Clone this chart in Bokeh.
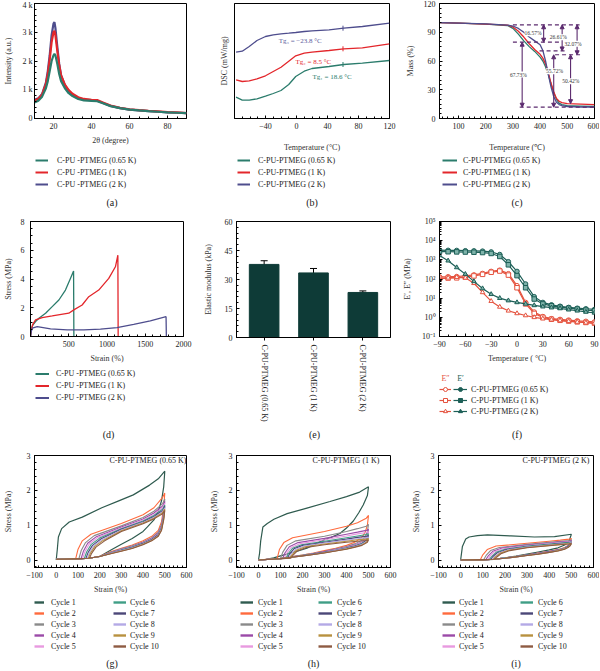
from bokeh.plotting import figure
from bokeh.layouts import row, column
from bokeh.models import (Range1d, Label, LabelSet, Legend, LegendItem, Arrow, NormalHead,
                          TeeHead, Whisker, ColumnDataSource, FixedTicker,
                          SingleIntervalTicker, CustomJSTickFormatter)
from bokeh.core.properties import value
from bokeh.embed import file_html
from bokeh.resources import INLINE

FONT = "Liberation Serif"
TEAL = "#2b7c6c"
RED = "#e3262b"
PURP = "#4e4d8d"
INK = "#1a1a1a"

# ---------------- data ----------------
SERIES = ["C-PU-PTMEG (0.65 K)", "C-PU-PTMEG (1 K)", "C-PU-PTMEG (2 K)"]
SERIES_SP = ["C-PU -PTMEG (0.65 K)", "C-PU -PTMEG (1 K)", "C-PU -PTMEG (2 K)"]

# (a) XRD
XRD_2THETA = [10, 12, 14, 16, 17, 18, 19, 20, 20.5, 21, 22, 23, 24, 26, 28, 30, 33, 36, 40, 43, 46, 50, 55, 60, 65, 70, 75, 80, 85, 90]
XRD_065 = [560, 620, 760, 1050, 1300, 1650, 2000, 2200, 2250, 2200, 1900, 1550, 1300, 1050, 880, 780, 680, 630, 610, 600, 530, 430, 360, 310, 280, 255, 235, 215, 200, 185]
XRD_1K = [620, 690, 830, 1200, 1550, 2050, 2650, 3000, 3050, 2900, 2350, 1850, 1500, 1180, 990, 860, 740, 680, 650, 640, 560, 450, 370, 320, 290, 265, 245, 225, 210, 190]
XRD_2K = [650, 700, 850, 1250, 1650, 2200, 2900, 3300, 3350, 3150, 2500, 1900, 1500, 1150, 950, 830, 720, 660, 640, 620, 540, 440, 360, 310, 280, 255, 235, 215, 200, 185]

# (b) DSC
DSC_T = [-78, -70, -61, -51, -40, -30, -20, -10, -1, 10, 20, 42, 61, 85, 120]
DSC_065 = [21.3, 18.3, 18.3, 19.7, 22.3, 25, 28, 34, 42, 47.3, 50, 52, 54, 55.3, 58]
DSC_1K = [38.7, 37, 37.7, 39.7, 42.7, 47, 51.3, 57.3, 62.7, 65.3, 66.3, 68, 69.7, 70.7, 74.7]
DSC_2K = [66.3, 67.3, 72, 78, 82, 83.7, 84.7, 85.3, 86, 87, 87.7, 88.7, 90.3, 92, 95.3]
DSC_MARK_T = [60, 60, 60]
DSC_MARK_Y = [54.0, 69.7, 90.3]
TG_TEXT = ["Tg\u2081 = 18.6 \u00b0C", "Tg\u2082 = 8.5 \u00b0C", "Tg\u2083 = \u221223.8 \u00b0C"]
TG_X = [20.6, -1.3, -23]
TG_Y = [41.3, 57, 78]

# (c) TGA
TGA_T = [30, 100, 200, 280, 300, 320, 340, 360, 380, 400, 410, 420, 430, 440, 450, 460, 470, 480, 500, 550, 600]
TGA_065 = [100, 99.5, 98.5, 97, 94, 88, 81, 75, 70, 64, 60, 54, 46, 36, 27, 20, 16, 14.5, 13.5, 13, 12.5]
TGA_1K = [100, 99.5, 98.5, 97.5, 95.5, 91, 85, 78, 72, 67, 63, 57, 48, 37, 28, 21, 18, 16.5, 15.5, 15, 14.5]
TGA_2K = [100, 99.5, 98.7, 97.5, 96.5, 94, 90, 85, 81, 77, 71, 60, 46, 33, 23, 17, 14.5, 13.5, 12.5, 12, 12]
C_DASH_X0 = [300, 300, 398, 455, 325]
C_DASH_X1 = [545, 478, 490, 552, 600]
C_DASH_Y = [97.8, 79.6, 70.5, 66.5, 11.8]
C_ARR_X = [334, 413, 481, 536, 450, 512]
C_ARR_Y0 = [79.6, 97.8, 97.8, 97.8, 66.5, 66.5]
C_ARR_Y1 = [11.8, 79.6, 70.5, 66.5, 11.8, 15.5]
C_PCT = ["67.73%", "16.57%", "26.61%", "32.07%", "55.72%", "50.42%"]
C_PCT_X = [320, 374, 467, 521, 453, 513]
C_PCT_Y = [45.9, 89, 84.8, 78, 49.4, 39]

# (d) tensile
D_X_065 = [0, 10, 30, 66, 110, 197, 284, 371, 457, 522, 563, 567]
D_Y_065 = [0, 0.5, 0.8, 1.04, 1.27, 1.62, 2.08, 2.54, 3.23, 4.04, 4.55, 0]
D_X_1K = [0, 10, 30, 66, 153, 284, 501, 566, 675, 762, 892, 1023, 1110, 1142, 1146]
D_Y_1K = [0, 0.45, 0.85, 1.15, 1.32, 1.43, 1.62, 1.85, 2.19, 2.77, 3.23, 4.04, 4.85, 5.66, 0]
D_X_2K = [0, 10, 23, 88, 262, 480, 697, 914, 1131, 1349, 1566, 1772, 1776]
D_Y_2K = [0, 0.35, 0.58, 0.69, 0.53, 0.46, 0.46, 0.51, 0.62, 0.85, 1.09, 1.38, 0]

# (e) elastic modulus
E_X = [1, 2, 3]
E_MOD = [37.8, 33.4, 23.3]
E_ERR = [1.9, 2.3, 0.8]

# (f) DMA
F_T = [-90, -80, -70, -60, -50, -40, -30, -20, -10, 0, 10, 20, 30, 40, 50, 60, 70, 80, 90]
F_E1_065 = [3200, 3150, 3100, 3000, 2950, 2850, 2600, 1900, 800, 250, 55, 12, 6, 4.5, 3.8, 3.3, 3.0, 2.8, 2.6]
F_E1_1K = [2700, 2650, 2600, 2550, 2500, 2400, 2150, 1500, 550, 150, 35, 9, 5, 4, 3.4, 3.0, 2.7, 2.4, 2.2]
F_E1_2K = [1700, 900, 400, 180, 75, 32, 16, 10, 7.5, 6, 5, 4.2, 3.6, 3.2, 2.9, 2.5, 2.2, 1.9, 1.7]
F_E2_065 = [130, 132, 135, 145, 165, 195, 250, 290, 190, 45, 6, 1.9, 1.1, 0.85, 0.78, 0.72, 0.66, 0.62, 0.58]
F_E2_1K = [110, 112, 115, 125, 145, 175, 225, 260, 160, 35, 5, 1.6, 1.0, 0.8, 0.7, 0.64, 0.58, 0.54, 0.5]
F_E2_2K = [100, 115, 125, 115, 60, 20, 7, 3.5, 2.2, 1.6, 1.25, 1.0, 0.85, 0.75, 0.68, 0.62, 0.57, 0.52, 0.48]

# (g)-(i) cyclic loading
CYCLES = ["Cycle %d" % k for k in range(1, 11)]
CYC_COLORS = ["#2f5b4f", "#ff6a3d", "#8a8a8a", "#9b4aa8", "#e89ae0",
              "#3f9e86", "#4b4778", "#b4a9e6", "#b8913f", "#8e5b42"]
UNLOAD_X = [495, 485, 470, 440, 400, 350, 300, 250, 200, 150, 100, 0]

G_C1_X = [0, 5, 10, 25, 60, 120, 210, 285, 355, 430, 470, 500, 495, 485, 470, 450, 420, 400, 350, 300, 250, 200, 150, 100, 0]
G_C1_Y = [0, 0.3, 0.66, 0.9, 1.09, 1.23, 1.5, 1.69, 1.87, 2.15, 2.33, 2.55, 2.1, 1.7, 1.4, 1.15, 0.95, 0.82, 0.62, 0.45, 0.28, 0.1, 0.05, 0.03, 0.02]
G_LOAD_X = [[0, 90, 100, 120, 160, 300, 400, 450, 490, 500],
            [0, 105, 115, 135, 175, 300, 400, 450, 490, 500],
            [0, 115, 125, 145, 185, 300, 400, 450, 490, 500],
            [0, 122, 132, 152, 192, 300, 400, 450, 490, 500],
            [0, 130, 140, 160, 200, 300, 400, 450, 490, 500],
            [0, 137, 147, 167, 207, 300, 400, 450, 490, 500],
            [0, 143, 153, 173, 213, 300, 400, 450, 490, 500],
            [0, 148, 158, 178, 218, 300, 400, 450, 490, 500],
            [0, 153, 163, 183, 223, 300, 400, 450, 490, 500]]
G_LOAD_Y = [[0.02, 0.05, 0.3, 0.55, 0.74, 1.05, 1.3, 1.5, 1.8, 1.92],
            [0.02, 0.05, 0.27, 0.5, 0.7, 0.98, 1.22, 1.4, 1.62, 1.75],
            [0.02, 0.05, 0.25, 0.48, 0.67, 0.95, 1.18, 1.35, 1.55, 1.68],
            [0.02, 0.05, 0.24, 0.46, 0.65, 0.92, 1.15, 1.31, 1.5, 1.63],
            [0.02, 0.05, 0.23, 0.44, 0.63, 0.9, 1.12, 1.28, 1.46, 1.58],
            [0.02, 0.05, 0.22, 0.42, 0.61, 0.88, 1.1, 1.25, 1.42, 1.54],
            [0.02, 0.05, 0.21, 0.41, 0.59, 0.86, 1.08, 1.22, 1.39, 1.5],
            [0.02, 0.05, 0.2, 0.39, 0.57, 0.84, 1.06, 1.2, 1.36, 1.46],
            [0.02, 0.05, 0.19, 0.37, 0.55, 0.82, 1.04, 1.18, 1.33, 1.42]]
G_UNLOAD_Y = [[1.5, 1.1, 0.85, 0.68, 0.55, 0.43, 0.34, 0.24, 0.11, 0.05, 0.03, 0.02],
              [1.4, 1.02, 0.8, 0.64, 0.52, 0.41, 0.32, 0.22, 0.1, 0.05, 0.03, 0.02],
              [1.35, 0.98, 0.77, 0.62, 0.5, 0.39, 0.31, 0.21, 0.1, 0.05, 0.03, 0.02],
              [1.3, 0.95, 0.75, 0.6, 0.49, 0.38, 0.3, 0.2, 0.1, 0.05, 0.03, 0.02],
              [1.27, 0.93, 0.73, 0.59, 0.48, 0.37, 0.29, 0.2, 0.1, 0.05, 0.03, 0.02],
              [1.24, 0.91, 0.72, 0.58, 0.47, 0.36, 0.28, 0.19, 0.1, 0.05, 0.03, 0.02],
              [1.21, 0.89, 0.7, 0.57, 0.46, 0.35, 0.27, 0.19, 0.1, 0.05, 0.03, 0.02],
              [1.18, 0.87, 0.69, 0.56, 0.45, 0.34, 0.26, 0.18, 0.1, 0.05, 0.03, 0.02],
              [1.15, 0.85, 0.68, 0.55, 0.44, 0.33, 0.25, 0.18, 0.1, 0.05, 0.03, 0.02]]

H_C1_X = [0, 5, 10, 20, 40, 70, 130, 220, 325, 400, 460, 500, 495, 476, 455, 431, 400, 370, 330, 295, 260, 220, 180, 145, 100, 69, 30, 0]
H_C1_Y = [0, 0.2, 0.55, 0.95, 1.05, 1.17, 1.33, 1.49, 1.68, 1.82, 1.95, 2.1, 1.85, 1.58, 1.35, 1.12, 0.92, 0.76, 0.65, 0.57, 0.46, 0.34, 0.26, 0.2, 0.12, 0.06, 0.01, 0]
H_LOAD_X = [[0, 85, 95, 115, 155, 300, 400, 450, 490, 500],
            [0, 100, 110, 130, 170, 300, 400, 450, 490, 500],
            [0, 110, 120, 140, 180, 300, 400, 450, 490, 500],
            [0, 118, 128, 148, 188, 300, 400, 450, 490, 500],
            [0, 125, 135, 155, 195, 300, 400, 450, 490, 500],
            [0, 131, 141, 161, 201, 300, 400, 450, 490, 500],
            [0, 137, 147, 167, 207, 300, 400, 450, 490, 500],
            [0, 142, 152, 172, 212, 300, 400, 450, 490, 500],
            [0, 147, 157, 177, 217, 300, 400, 450, 490, 500]]
H_LOAD_Y = [[0, 0.05, 0.3, 0.5, 0.64, 0.82, 0.97, 1.07, 1.2, 1.28],
            [0, 0.05, 0.22, 0.42, 0.55, 0.68, 0.82, 0.9, 0.97, 1.02],
            [0, 0.05, 0.2, 0.38, 0.5, 0.62, 0.74, 0.8, 0.85, 0.88],
            [0, 0.05, 0.19, 0.36, 0.47, 0.58, 0.69, 0.75, 0.79, 0.82],
            [0, 0.05, 0.18, 0.34, 0.44, 0.54, 0.64, 0.69, 0.73, 0.75],
            [0, 0.05, 0.17, 0.32, 0.42, 0.51, 0.6, 0.65, 0.68, 0.7],
            [0, 0.05, 0.16, 0.3, 0.4, 0.49, 0.57, 0.61, 0.64, 0.66],
            [0, 0.05, 0.15, 0.28, 0.38, 0.46, 0.54, 0.58, 0.6, 0.62],
            [0, 0.05, 0.14, 0.26, 0.36, 0.44, 0.51, 0.54, 0.56, 0.58]]
H_UNLOAD_Y = [[1.0, 0.8, 0.65, 0.52, 0.42, 0.34, 0.27, 0.2, 0.14, 0.09, 0.04, 0],
              [0.82, 0.68, 0.57, 0.47, 0.39, 0.32, 0.25, 0.19, 0.14, 0.09, 0.04, 0],
              [0.72, 0.61, 0.52, 0.44, 0.37, 0.3, 0.24, 0.18, 0.13, 0.09, 0.04, 0],
              [0.68, 0.58, 0.5, 0.42, 0.36, 0.29, 0.23, 0.18, 0.13, 0.08, 0.04, 0],
              [0.63, 0.55, 0.48, 0.41, 0.35, 0.28, 0.22, 0.17, 0.13, 0.08, 0.04, 0],
              [0.6, 0.53, 0.46, 0.4, 0.34, 0.27, 0.22, 0.17, 0.12, 0.08, 0.04, 0],
              [0.57, 0.51, 0.45, 0.39, 0.33, 0.27, 0.21, 0.16, 0.12, 0.08, 0.04, 0],
              [0.54, 0.49, 0.43, 0.38, 0.32, 0.26, 0.21, 0.16, 0.12, 0.08, 0.04, 0],
              [0.51, 0.47, 0.42, 0.37, 0.31, 0.26, 0.2, 0.16, 0.12, 0.08, 0.04, 0]]

I_C1_X = [0, 8, 23, 38, 76, 121, 227, 333, 424, 500, 490, 470, 440, 400, 350, 300, 250, 200, 150, 100, 0]
I_C1_Y = [0, 0.39, 0.6, 0.66, 0.7, 0.72, 0.69, 0.66, 0.67, 0.74, 0.55, 0.43, 0.35, 0.29, 0.23, 0.17, 0.11, 0.06, 0.02, 0, 0]
I_LOAD_X = [[0, 90, 100, 120, 160, 300, 400, 450, 490, 500],
            [0, 105, 115, 135, 175, 300, 400, 450, 490, 500],
            [0, 115, 125, 145, 185, 300, 400, 450, 490, 500],
            [0, 123, 133, 153, 193, 300, 400, 450, 490, 500],
            [0, 130, 140, 160, 200, 300, 400, 450, 490, 500],
            [0, 136, 146, 166, 206, 300, 400, 450, 490, 500],
            [0, 142, 152, 172, 212, 300, 400, 450, 490, 500],
            [0, 147, 157, 177, 217, 300, 400, 450, 490, 500],
            [0, 152, 162, 182, 222, 300, 400, 450, 490, 500]]
I_LOAD_Y = [[0, 0.02, 0.15, 0.3, 0.4, 0.48, 0.54, 0.57, 0.6, 0.62],
            [0, 0.02, 0.13, 0.27, 0.36, 0.45, 0.51, 0.54, 0.56, 0.58],
            [0, 0.02, 0.12, 0.25, 0.34, 0.43, 0.49, 0.52, 0.54, 0.56],
            [0, 0.02, 0.11, 0.24, 0.33, 0.41, 0.47, 0.5, 0.52, 0.54],
            [0, 0.02, 0.1, 0.22, 0.31, 0.4, 0.46, 0.49, 0.51, 0.52],
            [0, 0.02, 0.1, 0.21, 0.3, 0.38, 0.44, 0.47, 0.49, 0.51],
            [0, 0.02, 0.09, 0.2, 0.29, 0.37, 0.43, 0.46, 0.48, 0.5],
            [0, 0.02, 0.09, 0.19, 0.28, 0.36, 0.42, 0.45, 0.47, 0.48],
            [0, 0.02, 0.08, 0.18, 0.27, 0.35, 0.41, 0.44, 0.46, 0.47]]
I_UNLOAD_Y = [[0.5, 0.42, 0.36, 0.3, 0.25, 0.2, 0.15, 0.1, 0.06, 0.02, 0, 0],
              [0.48, 0.41, 0.35, 0.29, 0.24, 0.19, 0.15, 0.1, 0.06, 0.02, 0, 0],
              [0.47, 0.4, 0.34, 0.29, 0.24, 0.19, 0.14, 0.1, 0.06, 0.02, 0, 0],
              [0.46, 0.39, 0.34, 0.28, 0.23, 0.18, 0.14, 0.1, 0.06, 0.02, 0, 0],
              [0.45, 0.39, 0.33, 0.28, 0.23, 0.18, 0.14, 0.1, 0.06, 0.02, 0, 0],
              [0.44, 0.38, 0.33, 0.28, 0.23, 0.18, 0.14, 0.09, 0.05, 0.02, 0, 0],
              [0.43, 0.37, 0.32, 0.27, 0.22, 0.18, 0.13, 0.09, 0.05, 0.02, 0, 0],
              [0.42, 0.37, 0.32, 0.27, 0.22, 0.17, 0.13, 0.09, 0.05, 0.02, 0, 0],
              [0.41, 0.36, 0.31, 0.26, 0.22, 0.17, 0.13, 0.09, 0.05, 0.02, 0, 0]]


# ---------------- helpers ----------------
def make_panel(w, h, bl, br, bt, bb, xr, yr, xlabel, ylabel, y_type="linear"):
    p = figure(width=w, height=h, x_range=Range1d(*xr), y_range=Range1d(*yr),
               y_axis_type=y_type, output_backend="svg", toolbar_location=None,
               min_border_left=bl, min_border_right=br, min_border_top=bt,
               min_border_bottom=bb)
    p.xgrid.visible = False
    p.ygrid.visible = False
    p.outline_line_color = "black"
    p.outline_line_alpha = 1
    p.outline_line_width = 1
    for ax in p.axis:
        ax.major_tick_in = 3
        ax.major_tick_out = 0
        ax.minor_tick_in = 2
        ax.minor_tick_out = 0
        ax.major_label_text_font = FONT
        ax.major_label_text_font_size = "8px"
        ax.major_label_text_color = INK
        ax.axis_label_text_font = FONT
        ax.axis_label_text_font_size = "8px"
        ax.axis_label_text_font_style = "normal"
        ax.axis_label_text_color = "#333333"
        ax.major_label_standoff = 4
        ax.axis_label_standoff = 4
        ax.axis_line_color = "black"
        ax.major_tick_line_color = "black"
        ax.minor_tick_line_color = "black"
    p.xaxis.axis_label = xlabel
    p.yaxis.axis_label = ylabel
    return p


def leg_fig(w, h, bl, br):
    # same side borders as the panel above it, so that the two frames line up
    p = figure(width=w, height=h, x_range=Range1d(0, 1), y_range=Range1d(0, 1),
               output_backend="svg", toolbar_location=None,
               min_border_left=bl, min_border_right=br, min_border_top=0, min_border_bottom=0,
               x_axis_location=None, y_axis_location=None)
    p.xgrid.visible = False
    p.ygrid.visible = False
    p.outline_line_color = None
    return p


def add_legend(lp, lh, entries, x, d_top, gw, standoff, gh=11, spacing=1, font="8px"):
    """x: offset from the frame's left edge; d_top: strip top to first row centre."""
    n = len(entries)
    height = n * gh + (n - 1) * spacing
    top = lh - (d_top - gh / 2.0)
    items = [LegendItem(label=lab, renderers=rs) for lab, rs in entries]
    leg = Legend(items=items, location=(x, top - height), orientation="vertical",
                 glyph_width=gw, glyph_height=gh, label_height=gh, label_width=5,
                 label_standoff=standoff, spacing=spacing, padding=0, margin=0,
                 border_line_alpha=0, background_fill_alpha=0,
                 inactive_fill_alpha=0,
                 label_text_font=FONT, label_text_font_size=font,
                 label_text_color=INK)
    lp.add_layout(leg)


def tag(lp, lh, fw, d_top, text):
    lp.add_layout(Label(x=fw / 2.0, y=lh - d_top, x_units="screen", y_units="screen", text=text,
                        text_align="center", text_baseline="middle", text_color=INK,
                        text_font=FONT, text_font_size="10px"))


def ghost_line(p, xs, ys, color, width=2.0):
    # legend-only copy of a series (hidden; the legend still draws its swatch)
    return p.line(x=xs, y=ys, line_color=color, line_width=width, visible=False)


COLORS3 = [TEAL, RED, PURP]

# ---------------- row 1 (height 215) ----------------
R1_H, R1_BT, R1_FH, R1_BB = 215, 3, 115, 36
R1_MH = R1_BT + R1_FH + R1_BB
R1_LH = R1_H - R1_MH

# (a)
A_BL, A_BR, A_W = 31, 14, 200
pa = make_panel(A_W, R1_MH, A_BL, A_BR, R1_BT, R1_BB, (10, 90), (0, 4000), "2\u03b8 (degree)", "Intensity (a.u.)")
pa.xaxis.ticker = SingleIntervalTicker(interval=20, num_minor_ticks=4)
pa.yaxis.ticker = SingleIntervalTicker(interval=1000, num_minor_ticks=5)
pa.yaxis.major_label_overrides = {0: "0", 1000: "1 k", 2000: "2 k", 3000: "3 k", 4000: "4 k"}
pa.yaxis.major_label_standoff = 2
pa.yaxis.axis_label_standoff = 7
for ys, c in zip([XRD_2K, XRD_1K, XRD_065], [PURP, RED, TEAL]):
    pa.line(XRD_2THETA, ys, line_color=c, line_width=2.2)
la = leg_fig(A_W, R1_LH, A_BL, A_BR)
add_legend(la, R1_LH, [(SERIES_SP[i], [ghost_line(la, XRD_2THETA, ys, COLORS3[i])])
                       for i, ys in enumerate([XRD_065, XRD_1K, XRD_2K])], 1, 6, 13, 9, gh=10, spacing=2)
tag(la, R1_LH, A_W - A_BL - A_BR, 48, "(a)")

# (b)
B_BL, B_BR, B_W = 34, 11, 200
pb = make_panel(B_W, R1_MH, B_BL, B_BR, R1_BT, R1_BB, (-80, 120), (0, 115), "Temperature (\u00b0C)", "DSC (mW/mg)")
pb.xaxis.ticker = FixedTicker(ticks=[-40, 0, 40, 80, 120],
                              minor_ticks=[-70, -60, -50, -30, -20, -10, 10, 20, 30, 50, 60, 70, 90, 100, 110])
pb.yaxis.ticker = FixedTicker(ticks=[])
pb.yaxis.axis_label_standoff = 6
pb.xaxis.axis_label_standoff = 11
for ys, c in zip([DSC_065, DSC_1K, DSC_2K], COLORS3):
    pb.line(DSC_T, ys, line_color=c, line_width=1.3)
pb.scatter(DSC_MARK_T, DSC_MARK_Y, marker="dash", angle=1.5708, size=5,
           line_color=COLORS3, line_width=1)
pb.text(x=TG_X, y=TG_Y, text=TG_TEXT, text_color=[TEAL, RED, "#5a5a9a"],
        text_font=value(FONT), text_font_size=value("7px"),
        text_align="left", text_baseline="middle")
lb = leg_fig(B_W, R1_LH, B_BL, B_BR)
add_legend(lb, R1_LH, [(SERIES[i], [ghost_line(lb, DSC_T, ys, COLORS3[i])])
                       for i, ys in enumerate([DSC_065, DSC_1K, DSC_2K])], 3, 6, 13, 8, gh=10, spacing=2)
tag(lb, R1_LH, B_W - B_BL - B_BR, 48, "(b)")

# (c)
PD = "#5b2a6e"
C_BL, C_BR, C_W = 39, 5, 199
pc = make_panel(C_W, R1_MH, C_BL, C_BR, R1_BT, R1_BB, (30, 600), (0, 120), "Temperature (\u2103)", "Mass (%)")
pc.xaxis.ticker = SingleIntervalTicker(interval=100, num_minor_ticks=5)
pc.yaxis.ticker = SingleIntervalTicker(interval=30, num_minor_ticks=6)
pc.yaxis.axis_label_standoff = 6
pc.xaxis.axis_label_standoff = 11
for ys, c in zip([TGA_065, TGA_1K, TGA_2K], COLORS3):
    pc.line(TGA_T, ys, line_color=c, line_width=1.3)
pc.segment(x0=C_DASH_X0, y0=C_DASH_Y, x1=C_DASH_X1, y1=C_DASH_Y,
           line_color=PD, line_width=1.2, line_dash="4 3")
for xa, y0, y1 in zip(C_ARR_X, C_ARR_Y0, C_ARR_Y1):
    pc.add_layout(Arrow(x_start=xa, y_start=y0, x_end=xa, y_end=y1,
                        line_color=PD, line_width=1.1,
                        start=NormalHead(size=4, fill_color=PD, line_color=PD),
                        end=NormalHead(size=4, fill_color=PD, line_color=PD)))
pc.add_layout(LabelSet(x="x", y="y", text="t",
                       source=ColumnDataSource(dict(x=C_PCT_X, y=C_PCT_Y, t=C_PCT)),
                       text_font=value(FONT), text_font_size=value("5.5px"), text_color="#333333",
                       text_align="center", text_baseline="middle",
                       background_fill_color="white", background_fill_alpha=1.0))
lc = leg_fig(C_W, R1_LH, C_BL, C_BR)
add_legend(lc, R1_LH, [(SERIES[i], [ghost_line(lc, TGA_T, ys, COLORS3[i])])
                       for i, ys in enumerate([TGA_065, TGA_1K, TGA_2K])], 3, 6, 15, 6, gh=10, spacing=2)
tag(lc, R1_LH, C_W - C_BL - C_BR, 48, "(c)")

# ---------------- row 2 (height 232) ----------------
R2_H, R2_BT, R2_FH, R2_BB = 232, 6, 116, 28
R2_MH = R2_BT + R2_FH + R2_BB
R2_LH = R2_H - R2_MH

# (d)
D_BL, D_BR, D_W = 27, 17, 200
pd_ = make_panel(D_W, R2_MH, D_BL, D_BR, R2_BT, R2_BB, (0, 2000), (0, 8), "Strain (%)", "Stress (MPa)")
pd_.xaxis.ticker = FixedTicker(ticks=[500, 1000, 1500, 2000],
                               minor_ticks=[100, 200, 300, 400, 600, 700, 800, 900, 1100, 1200, 1300, 1400,
                                            1600, 1700, 1800, 1900])
pd_.yaxis.ticker = SingleIntervalTicker(interval=2, num_minor_ticks=4)
pd_.yaxis.major_label_standoff = 6
pd_.yaxis.axis_label_standoff = 5
for xs, ys, c in zip([D_X_065, D_X_1K, D_X_2K], [D_Y_065, D_Y_1K, D_Y_2K], COLORS3):
    pd_.line(xs, ys, line_color=c, line_width=1.3)
ld = leg_fig(D_W, R2_LH, D_BL, D_BR)
add_legend(ld, R2_LH, [(SERIES_SP[i], [ghost_line(ld, xs, ys, COLORS3[i])])
                       for i, (xs, ys) in enumerate([(D_X_065, D_Y_065), (D_X_1K, D_Y_1K), (D_X_2K, D_Y_2K)])],
           5, 8, 14, 7, gh=11, spacing=1)
tag(ld, R2_LH, D_W - D_BL - D_BR, 69, "(d)")

# (e)
E_BL, E_BR, E_W, E_BB = 34, 10, 200, 90
E_MH = R2_BT + R2_FH + E_BB
E_LH = R2_H - E_MH
pe = make_panel(E_W, E_MH, E_BL, E_BR, R2_BT, E_BB, (0.44, 3.56), (0, 60), None, "Elastic modulus (kPa)")
pe.xaxis.ticker = FixedTicker(ticks=E_X)
pe.xaxis.major_label_overrides = {1: SERIES[0], 2: SERIES[1], 3: SERIES[2]}
pe.xaxis.major_label_orientation = "vertical"
pe.xaxis.major_tick_out = 3
pe.xaxis.major_tick_in = 0
pe.xaxis.major_label_standoff = 4
pe.yaxis.ticker = SingleIntervalTicker(interval=15, num_minor_ticks=5)
pe.yaxis.axis_label_standoff = 9
pe.vbar(x=E_X, top=E_MOD, width=0.6, fill_color="#0e3b37", line_color="#0e3b37")
err_src = ColumnDataSource(dict(x=E_X, up=[m + e for m, e in zip(E_MOD, E_ERR)],
                                lo=[m - e for m, e in zip(E_MOD, E_ERR)]))
pe.add_layout(Whisker(source=err_src, base="x", upper="up", lower="lo", line_color="black",
                      line_width=1, upper_head=TeeHead(size=7, line_color="black"),
                      lower_head=TeeHead(size=7, line_color="black")))
le = leg_fig(E_W, E_LH, E_BL, E_BR)
tag(le, E_LH, E_W - E_BL - E_BR, 7, "(e)")

# (f)
FT = "#1d5f57"
FR = "#e5533f"
F_BL, F_BR, F_W = 39, 5, 199
pf = make_panel(F_W, R2_MH, F_BL, F_BR, R2_BT, R2_BB, (-90, 90), (0.1, 1e5), "Temperature ( \u00b0C)",
                "E\u2032, E\u2033 (MPa)", y_type="log")
pf.xaxis.ticker = SingleIntervalTicker(interval=30, num_minor_ticks=3)
pf.yaxis.formatter = CustomJSTickFormatter(code="""
const e = Math.round(Math.log10(tick));
const sup = {"-": "\u207b", "0": "\u2070", "1": "\u00b9", "2": "\u00b2", "3": "\u00b3",
             "4": "\u2074", "5": "\u2075", "6": "\u2076", "7": "\u2077", "8": "\u2078", "9": "\u2079"};
return "10" + String(e).split("").map(c => sup[c]).join("");
""")
pf.yaxis.axis_label_standoff = 7
MARKS = ["circle", "square", "triangle"]
for ys, m in zip([F_E2_065, F_E2_1K, F_E2_2K], MARKS):
    pf.line(F_T, ys, line_color=FR, line_width=1.2)
    pf.scatter(F_T, ys, marker=m, size=4.5, line_color=FR, fill_color="white", line_width=1)
for ys, m in zip([F_E1_065, F_E1_1K, F_E1_2K], MARKS):
    pf.line(F_T, ys, line_color=FT, line_width=1.2)
    pf.scatter(F_T, ys, marker=m, size=4.5, line_color=FT, fill_color="#7fb3aa", line_width=1)
lf = leg_fig(F_W, R2_LH, F_BL, F_BR)
red_entries = []
teal_entries = []
for i, (m, e2, e1) in enumerate(zip(MARKS, [F_E2_065, F_E2_1K, F_E2_2K], [F_E1_065, F_E1_1K, F_E1_2K])):
    rl = lf.line(x=F_T, y=e2, line_color=FR, line_width=1.2, visible=False)
    rs = lf.scatter(x=F_T, y=e2, marker=m, size=4.5, line_color=FR, fill_color="white", visible=False)
    tl = lf.line(x=F_T, y=e1, line_color=FT, line_width=1.2, visible=False)
    ts = lf.scatter(x=F_T, y=e1, marker=m, size=4.5, line_color=FT, fill_color=FT, visible=False)
    red_entries.append((" ", [rl, rs]))
    teal_entries.append((SERIES[i], [tl, ts]))
add_legend(lf, R2_LH, red_entries, 0, 24, 12, 0, gh=10, spacing=1)
add_legend(lf, R2_LH, teal_entries, 14, 24, 14, 4, gh=10, spacing=1)
lf.add_layout(Label(x=6, y=R2_LH - 13, x_units="screen", y_units="screen", text="E\u2033",
                    text_align="center", text_baseline="middle", text_color=FR,
                    text_font=FONT, text_font_size="8px"))
lf.add_layout(Label(x=21, y=R2_LH - 13, x_units="screen", y_units="screen", text="E\u2032",
                    text_align="center", text_baseline="middle", text_color=FT,
                    text_font=FONT, text_font_size="8px"))
tag(lf, R2_LH, F_W - F_BL - F_BR, 69, "(f)")

# ---------------- row 3 (height 223) ----------------
R3_H, R3_BT, R3_FH, R3_BB = 223, 8, 115, 26
R3_MH = R3_BT + R3_FH + R3_BB
R3_LH = R3_H - R3_MH


def cyc_panel(bl, br, w, c1x, c1y, lx, ly, uy, name, name_dx, tagtext, ystd, leg1, leg2):
    fw = w - bl - br
    p = make_panel(w, R3_MH, bl, br, R3_BT, R3_BB, (-100, 600), (-0.215, 3), "Strain (%)", "Stress (MPa)")
    p.xaxis.ticker = SingleIntervalTicker(interval=100, num_minor_ticks=5)
    p.yaxis.ticker = SingleIntervalTicker(interval=1, num_minor_ticks=5)
    p.yaxis.axis_label_standoff = ystd
    p.line(c1x, c1y, line_color=CYC_COLORS[0], line_width=1.2)
    for k in range(9):
        p.line(lx[k] + UNLOAD_X, ly[k] + uy[k], line_color=CYC_COLORS[k + 1], line_width=1.1)
    p.add_layout(Label(x=fw - name_dx, y=R3_FH - 8, x_units="screen", y_units="screen", text=name,
                       text_align="right", text_baseline="middle", text_font=FONT,
                       text_font_size="8px", text_color=INK))
    lp = leg_fig(w, R3_LH, bl, br)
    dl = [ghost_line(lp, c1x, c1y, CYC_COLORS[0], 2.4)]
    for k in range(9):
        dl.append(ghost_line(lp, lx[k] + UNLOAD_X, ly[k] + uy[k], CYC_COLORS[k + 1], 2.4))
    add_legend(lp, R3_LH, [(CYCLES[k], [dl[k]]) for k in range(5)], leg1[0], 6, leg1[1], leg1[2], gh=10, spacing=1)
    add_legend(lp, R3_LH, [(CYCLES[k], [dl[k]]) for k in range(5, 10)], leg2[0], 6, leg2[1], leg2[2], gh=10, spacing=1)
    tag(lp, R3_LH, fw, 67, tagtext)
    return column(p, lp, spacing=0)


cg = cyc_panel(31, 14, 200, G_C1_X, G_C1_Y, G_LOAD_X, G_LOAD_Y, G_UNLOAD_Y, SERIES[0], 3, "(g)", 11,
               (0, 10, 7), (79, 13, 4))
ch = cyc_panel(36, 10, 200, H_C1_X, H_C1_Y, H_LOAD_X, H_LOAD_Y, H_UNLOAD_Y, SERIES[1], 11, "(h)", 7,
               (4, 13, 5), (82, 14, 5))
ci = cyc_panel(38, 6, 199, I_C1_X, I_C1_Y, I_LOAD_X, I_LOAD_Y, I_UNLOAD_Y, SERIES[2], 4, "(i)", 7,
               (4, 13, 4), (82, 13, 5))

layout = column(
    row(column(pa, la, spacing=0), column(pb, lb, spacing=0), column(pc, lc, spacing=0), spacing=0),
    row(column(pd_, ld, spacing=0), column(pe, le, spacing=0), column(pf, lf, spacing=0), spacing=0),
    row(cg, ch, ci, spacing=0),
    spacing=0)
open("out.html", "w").write(file_html(layout, INLINE))
